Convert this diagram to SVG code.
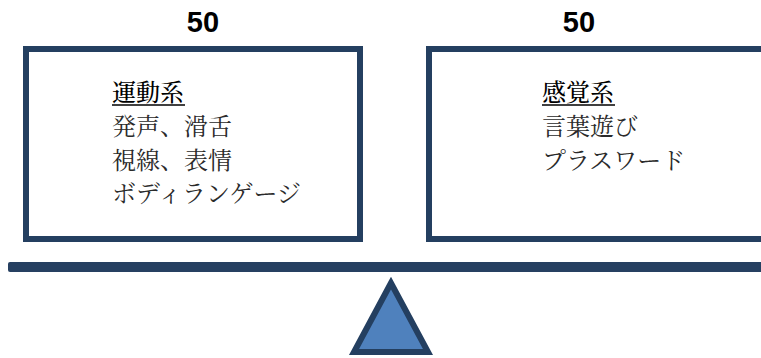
<svg xmlns="http://www.w3.org/2000/svg" width="761" height="358" viewBox="0 0 761 358">
<style>
.box{fill:#fff;stroke:#243f60;stroke-width:6}
.num{font-family:"Liberation Sans",Arial,sans-serif;font-weight:bold;font-size:29px;fill:#000;text-anchor:middle}
.jp{font-family:"Noto Serif CJK JP","Noto Sans CJK JP",serif;font-size:24px;fill:#2a2a2a}
.hd{fill:#000;font-weight:500}
.ul{stroke:#000;stroke-width:1.5}
</style>
<rect width="761" height="358" fill="#fff"/>
<g id="label-left"><text class="num" x="203" y="32">50</text></g>
<g id="label-right"><text class="num" x="579" y="32">50</text></g>
<g id="box-motor">
<rect class="box" x="26" y="49" width="334" height="190"/>
<text class="jp hd" x="112" y="101">運動系</text>
<line class="ul" x1="112" y1="105" x2="185" y2="105"/>
<text class="jp" x="112" y="135">発声、滑舌</text>
<text class="jp" x="112" y="169">視線、表情</text>
<text class="jp" x="112" y="202">ボディランゲージ</text>
</g>
<g id="box-sense">
<rect class="box" x="429" y="49" width="345" height="190"/>
<text class="jp hd" x="542" y="101">感覚系</text>
<line class="ul" x1="542" y1="105" x2="615" y2="105"/>
<text class="jp" x="542" y="135">言葉遊び</text>
<text class="jp" x="542" y="169">プラスワード</text>
</g>
<g id="beam"><rect x="8" y="262" width="770" height="10" rx="2" fill="#264061"/></g>
<g id="fulcrum"><polygon points="391,283 354,352 428,352" fill="#4f81bd" stroke="#243f60" stroke-width="6" stroke-linejoin="miter"/></g>
<g id="connectors"/>
</svg>
